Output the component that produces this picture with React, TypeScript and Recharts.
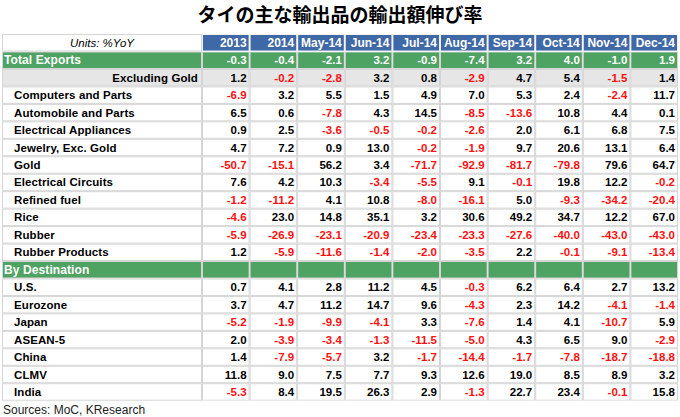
import React from "react";
import { ScatterChart, Scatter, XAxis, YAxis } from "recharts";

const title = "タイの主な輸出品の輸出額伸び率";
const unitsLabel = "Units: %YoY";
const sourceText = "Sources: MoC, KResearch";

const columns = ["2013", "2014", "May-14", "Jun-14", "Jul-14", "Aug-14", "Sep-14", "Oct-14", "Nov-14", "Dec-14"];

const rowLabels = [
  "Total Exports",
  "Excluding Gold",
  "Computers and Parts",
  "Automobile and Parts",
  "Electrical Appliances",
  "Jewelry, Exc. Gold",
  "Gold",
  "Electrical Circuits",
  "Refined fuel",
  "Rice",
  "Rubber",
  "Rubber Products",
  "By Destination",
  "U.S.",
  "Eurozone",
  "Japan",
  "ASEAN-5",
  "China",
  "CLMV",
  "India",
];

const rowKinds = [
  "total", "exgold", "item", "item", "item", "item", "item", "item", "item", "item", "item", "item",
  "section", "item", "item", "item", "item", "item", "item", "item",
];

const totalExports = [-0.3, -0.4, -2.1, 3.2, -0.9, -7.4, 3.2, 4.0, -1.0, 1.9];
const excludingGold = [1.2, -0.2, -2.8, 3.2, 0.8, -2.9, 4.7, 5.4, -1.5, 1.4];
const computers = [-6.9, 3.2, 5.5, 1.5, 4.9, 7.0, 5.3, 2.4, -2.4, 11.7];
const automobile = [6.5, 0.6, -7.8, 4.3, 14.5, -8.5, -13.6, 10.8, 4.4, 0.1];
const elecAppliances = [0.9, 2.5, -3.6, -0.5, -0.2, -2.6, 2.0, 6.1, 6.8, 7.5];
const jewelry = [4.7, 7.2, 0.9, 13.0, -0.2, -1.9, 9.7, 20.6, 13.1, 6.4];
const gold = [-50.7, -15.1, 56.2, 3.4, -71.7, -92.9, -81.7, -79.8, 79.6, 64.7];
const elecCircuits = [7.6, 4.2, 10.3, -3.4, -5.5, 9.1, -0.1, 19.8, 12.2, -0.2];
const refinedFuel = [-1.2, -11.2, 4.1, 10.8, -8.0, -16.1, 5.0, -9.3, -34.2, -20.4];
const rice = [-4.6, 23.0, 14.8, 35.1, 3.2, 30.6, 49.2, 34.7, 12.2, 67.0];
const rubber = [-5.9, -26.9, -23.1, -20.9, -23.4, -23.3, -27.6, -40.0, -43.0, -43.0];
const rubberProducts = [1.2, -5.9, -11.6, -1.4, -2.0, -3.5, 2.2, -0.1, -9.1, -13.4];
const byDestination: (number | null)[] = [null, null, null, null, null, null, null, null, null, null];
const us = [0.7, 4.1, 2.8, 11.2, 4.5, -0.3, 6.2, 6.4, 2.7, 13.2];
const eurozone = [3.7, 4.7, 11.2, 14.7, 9.6, -4.3, 2.3, 14.2, -4.1, -1.4];
const japan = [-5.2, -1.9, -9.9, -4.1, 3.3, -7.6, 1.4, 4.1, -10.7, 5.9];
const asean5 = [2.0, -3.9, -3.4, -1.3, -11.5, -5.0, 4.3, 6.5, 9.0, -2.9];
const china = [1.4, -7.9, -5.7, 3.2, -1.7, -14.4, -1.7, -7.8, -18.7, -18.8];
const clmv = [11.8, 9.0, 7.5, 7.7, 9.3, 12.6, 19.0, 8.5, 8.9, 3.2];
const india = [-5.3, 8.4, 19.5, 26.3, 2.9, -1.3, 22.7, 23.4, -0.1, 15.8];

const rowValues: (number | null)[][] = [
  totalExports, excludingGold, computers, automobile, elecAppliances, jewelry, gold,
  elecCircuits, refinedFuel, rice, rubber, rubberProducts, byDestination,
  us, eurozone, japan, asean5, china, clmv, india,
];

const cells = rowValues.flatMap((vals, r) =>
  vals.map((v, c) => ({ x: c + 0.5, y: r + 0.5, v, kind: rowKinds[r] }))
);

const W = 680;
const H = 417;
const M = { top: 34, right: 2, bottom: 16.3, left: 2 };
const LABEL_W = 200;
const HEADER_H = 17.5;
const PLOT_W = W - M.left - M.right - LABEL_W;
const PLOT_H = H - M.top - HEADER_H - M.bottom;
const CELL_W = PLOT_W / columns.length;
const CELL_H = PLOT_H / rowLabels.length;

const FONT = "'Liberation Sans', Arial, sans-serif";
const GREEN = "#4ea363";
const BLUE = "#3f68a6";
const GRAY_ROW = "#e6e6e6";
const GRID = "#d5d5d5";
const RED = "#ff1010";

const bgFor = (kind: string) =>
  kind === "total" || kind === "section" ? GREEN : kind === "exgold" ? GRAY_ROW : "#ffffff";

const CellShape = (props: any) => {
  const { cx, cy, payload } = props;
  const kind = payload.kind;
  const v = payload.v;
  const x0 = cx - CELL_W / 2;
  const y0 = cy - CELL_H / 2;
  const fillText = kind === "total" ? "#ffffff" : v != null && v < 0 ? RED : "#000000";
  return (
    <g>
      <rect x={x0} y={y0} width={CELL_W} height={CELL_H} fill={GRID} />
      <rect x={x0 + 1} y={y0 + 1} width={CELL_W - 2} height={CELL_H - 2} fill={bgFor(kind)} />
      {v != null && (
        <text
          x={x0 + CELL_W - 3}
          y={cy}
          textAnchor="end"
          dominantBaseline="central"
          fontFamily={FONT}
          fontWeight="bold"
          fontSize={11.5}
          fill={fillText}
        >
          {v.toFixed(1)}
        </text>
      )}
    </g>
  );
};

const RowTick = (props: any) => {
  const { y, payload } = props;
  const r = Math.floor(payload.value);
  const kind = rowKinds[r];
  const label = rowLabels[r];
  if (label == null) return null;
  const x0 = M.left;
  const y0 = y - CELL_H / 2;
  let tx = x0 + 12;
  let anchor: "start" | "end" = "start";
  let color = "#000";
  if (kind === "total" || kind === "section") {
    tx = x0 + 2;
    color = "#fff";
  } else if (kind === "exgold") {
    tx = x0 + LABEL_W - 4;
    anchor = "end";
  }
  return (
    <g>
      <rect x={x0} y={y0} width={LABEL_W} height={CELL_H} fill={GRID} />
      <rect x={x0 + 1} y={y0 + 1} width={LABEL_W - 2} height={CELL_H - 2} fill={bgFor(kind)} />
      <text
        x={tx}
        y={y}
        textAnchor={anchor}
        dominantBaseline="central"
        fontFamily={FONT}
        fontWeight="bold"
        fontSize={kind === "total" || kind === "section" ? 12 : 11.5}
        letterSpacing={0.1}
        fill={color}
      >
        {label}
      </text>
    </g>
  );
};

const ColTick = (props: any) => {
  const { x, payload, index } = props;
  const c = Math.floor(payload.value);
  const label = columns[c];
  if (label == null) return null;
  const x0 = x - CELL_W / 2;
  const y0 = M.top;
  return (
    <g>
      {index === 0 && (
        <g>
          <rect x={M.left} y={y0} width={LABEL_W} height={HEADER_H} fill={GRID} />
          <rect x={M.left + 1} y={y0 + 1} width={LABEL_W - 2} height={HEADER_H - 2} fill="#fff" />
          <text
            x={M.left + LABEL_W / 2}
            y={y0 + HEADER_H / 2}
            textAnchor="middle"
            dominantBaseline="central"
            fontFamily={FONT}
            fontStyle="italic"
            fontSize={11.5}
            fill="#000"
          >
            {unitsLabel}
          </text>
        </g>
      )}
      <rect x={x0} y={y0} width={CELL_W} height={HEADER_H} fill="#f2f2f2" />
      <rect x={x0 + 1} y={y0 + 1} width={CELL_W - 2} height={HEADER_H - 2} fill={BLUE} />
      <text
        x={x0 + CELL_W - 3}
        y={y0 + HEADER_H / 2}
        textAnchor="end"
        dominantBaseline="central"
        fontFamily={FONT}
        fontWeight="bold"
        fontSize={12}
        fill="#fff"
      >
        {label}
      </text>
    </g>
  );
};

const colTicks = columns.map((_, i) => i + 0.5);
const rowTicks = rowLabels.map((_, i) => i + 0.5);

export default function App() {
  return (
    <div style={{ position: "absolute", left: 0, top: 0, width: W, height: H, background: "#fff" }}>
      <div
        style={{
          position: "absolute",
          left: 0,
          top: 3,
          width: W,
          textAlign: "center",
          fontFamily: "'Noto Sans CJK JP', sans-serif",
          fontWeight: 700,
          fontSize: 19,
          lineHeight: "22px",
          color: "#000",
        }}
      >
        {title}
      </div>
      <div
        style={{
          position: "absolute",
          left: 3,
          top: 403,
          fontFamily: FONT,
          fontSize: 12,
          lineHeight: "14px",
          color: "#222",
        }}
      >
        {sourceText}
      </div>
      <div style={{ position: "absolute", left: 0, top: 0 }}>
        <ScatterChart width={W} height={H} margin={M}>
          <XAxis
            type="number"
            dataKey="x"
            orientation="top"
            domain={[0, columns.length]}
            ticks={colTicks}
            interval={0}
            height={HEADER_H}
            axisLine={false}
            tickLine={false}
            tick={<ColTick />}
            allowDataOverflow
          />
          <YAxis
            type="number"
            dataKey="y"
            reversed
            domain={[0, rowLabels.length]}
            ticks={rowTicks}
            interval={0}
            width={LABEL_W}
            axisLine={false}
            tickLine={false}
            tick={<RowTick />}
            allowDataOverflow
          />
          <Scatter data={cells} shape={<CellShape />} isAnimationActive={false} />
        </ScatterChart>
      </div>
    </div>
  );
}
